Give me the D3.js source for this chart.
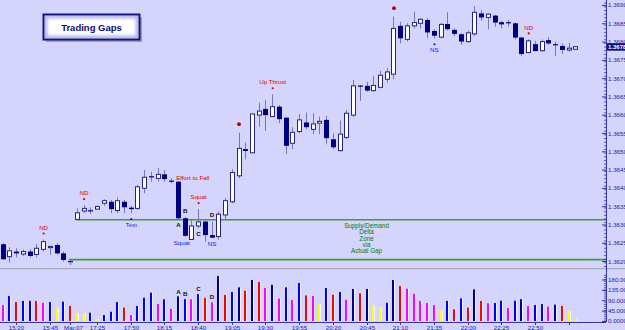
<!DOCTYPE html>
<html>
<head>
<meta charset="utf-8">
<script src="https://cdn.jsdelivr.net/npm/d3@7/dist/d3.min.js"></script>
<style>
  body { margin: 0; background: #d4d4fc; overflow: hidden; }
  svg { display: block; font-family: "Liberation Sans", Arial, sans-serif; }
</style>
</head>
<body>
<div id="wrapper"></div>
<script>
// 5 minute bars, index 0..85
const opens = [1.36246,1.36212,1.36226,1.36219,1.36226,1.36218,1.36232,1.36238,1.36244,1.36221,
  1.36200,1.36314,1.36337,1.36339,1.36342,1.36358,1.36362,1.36338,1.36362,1.36346,
  1.36344,1.36399,1.36432,1.36426,1.36437,1.36420,1.36417,1.36317,1.36259,1.36296,
  1.36308,1.36271,1.36267,1.36326,1.36362,1.36433,1.36506,1.36496,1.36599,1.36616,
  1.36595,1.36622,1.36592,1.36522,1.36554,1.36579,1.36560,1.36577,1.36586,1.36533,
  1.36502,1.36538,1.36599,1.36680,1.36679,1.36666,1.36675,1.36697,1.36711,1.36843,
  1.36806,1.36843,1.36850,1.36859,1.36829,1.36812,1.36848,1.36832,1.36820,1.36800,
  1.36821,1.36877,1.36866,1.36871,1.36853,1.36853,1.36850,1.36811,1.36770,1.36793,
  1.36775,1.36804,1.36793,1.36788,1.36777,1.36779]
const highs = [1.36249,1.36238,1.36235,1.36232,1.36232,1.36247,1.36259,1.36241,1.36249,1.36226,
  1.36204,1.36344,1.36353,1.36347,1.36352,1.36369,1.36367,1.36374,1.36367,1.36351,
  1.36408,1.36449,1.36444,1.36454,1.36449,1.36426,1.36419,1.36320,1.36312,1.36342,
  1.36310,1.36308,1.36335,1.36372,1.36451,1.36551,1.36524,1.36604,1.36633,1.36640,
  1.36656,1.36627,1.36594,1.36566,1.36602,1.36606,1.36604,1.36595,1.36597,1.36549,
  1.36584,1.36613,1.36695,1.36681,1.36690,1.36706,1.36720,1.36727,1.36868,1.36854,
  1.36850,1.36882,1.36864,1.36864,1.36834,1.36851,1.36880,1.36836,1.36823,1.36830,
  1.36897,1.36886,1.36877,1.36873,1.36857,1.36859,1.36852,1.36813,1.36806,1.36802,
  1.36806,1.36812,1.36800,1.36795,1.36797,1.36787]
const lows = [1.36203,1.36196,1.36210,1.36214,1.36210,1.36210,1.36226,1.36217,1.36217,1.36198,
  1.36189,1.36313,1.36331,1.36329,1.36340,1.36351,1.36331,1.36331,1.36331,1.36331,
  1.36340,1.36385,1.36417,1.36417,1.36417,1.36413,1.36315,1.36266,1.36258,1.36290,
  1.36253,1.36262,1.36258,1.36312,1.36358,1.36426,1.36478,1.36495,1.36567,1.36556,
  1.36594,1.36577,1.36493,1.36506,1.36549,1.36560,1.36547,1.36547,1.36519,1.36506,
  1.36499,1.36533,1.36594,1.36638,1.36663,1.36663,1.36672,1.36688,1.36697,1.36795,
  1.36800,1.36836,1.36836,1.36809,1.36809,1.36809,1.36830,1.36815,1.36791,1.36797,
  1.36815,1.36857,1.36834,1.36841,1.36836,1.36841,1.36806,1.36761,1.36768,1.36773,
  1.36772,1.36791,1.36761,1.36766,1.36772,1.36778]
const closes = [1.36205,1.36228,1.36221,1.36226,1.36214,1.36235,1.36253,1.36240,1.36221,1.36203,
  1.36197,1.36332,1.36344,1.36336,1.36349,1.36365,1.36342,1.36365,1.36347,1.36342,
  1.36403,1.36429,1.36429,1.36437,1.36424,1.36418,1.36317,1.36269,1.36296,1.36307,
  1.36271,1.36264,1.36328,1.36365,1.36442,1.36508,1.36501,1.36602,1.36610,1.36599,
  1.36622,1.36588,1.36515,1.36552,1.36586,1.36566,1.36575,1.36582,1.36536,1.36511,
  1.36547,1.36604,1.36679,1.36677,1.36666,1.36680,1.36708,1.36717,1.36836,1.36809,
  1.36843,1.36852,1.36861,1.36825,1.36816,1.36847,1.36834,1.36821,1.36800,1.36824,
  1.36880,1.36866,1.36875,1.36852,1.36847,1.36850,1.36811,1.36766,1.36802,1.36774,
  1.36800,1.36795,1.36790,1.36777,1.36782,1.36786]

// volume (thousands) and its colour class per bar
const volumes = [69,108,82,87,87,87,79,82,58,84, 65,35,35,36,9,26,40,82,58,26,
  65,101,123,74,94,53,107,95,94,117, 100,81,195,113,126,146,131,178,169,143,
  157,97,146,91,165,111,108,72,143,114, 126,92,139,120,139,68,61,79,178,152,
  140,118,87,78,69,48,87,51,98,58, 137,87,77,78,88,56,88,95,65,69, 74,62,71,65,43,10]
const volumeClass = "MBRBBRMBYBRYYBYBBBRMBBBMBMNBMBRMNRBNRNRMNMBMBRMYBRBMNRNYYBNRMMMMMYBRBRNRMBBMBNMBBMNRYY".split("")

const timeTickBars = [2,7,10,14,19,24,29,34,39,44,49,54,59,64,69,74,79,84]
const timeTickLabels = ["15:20","15:45","Mar.07","17:25","17:50","18:15","18:40","19:05","19:30",
  "19:55","20:20","20:45","21:10","21:35","22:00","22:25","22:50",""]

const priceTicks = d3.range(14, -1, -1).map(k => +(1.3620 + k * 0.0005).toFixed(4))
const volumeTicks = [0, 45, 90, 135, 180]
const volumeTickLabels = ["0.00000","45.0000","90.0000","135.0000","180.0000"]

const gapLevels = [1.36204, 1.36313]
const gapStartBars = [10, 11]
const gapText = ["Supply/Demand","Delta","Zone","via","Actual Gap"]

// chart notes: bar, text, side of the bar, kind
const notes = [
  {bar: 6, text: "ND", side: "above", kind: "sign", dot: true},
  {bar: 12, text: "ND", side: "above", kind: "sign", dot: true},
  {bar: 19, text: "Test", side: "below", kind: "test", dot: true},
  {bar: 29, text: "Squat", side: "above", kind: "sign", dot: true},
  {bar: 26.5, text: "Squat", side: "below", kind: "test", dot: false, ref: 27},
  {bar: 31, text: "NS", side: "below", kind: "test", dot: false},
  {bar: 35, text: "", side: "above", kind: "sign", dot: true, big: true},
  {bar: 40, text: "Up Thrust", side: "above", kind: "sign", dot: true},
  {bar: 58, text: "", side: "above", kind: "sign", dot: true, big: true},
  {bar: 64, text: "NS", side: "below", kind: "test", dot: true},
  {bar: 78, text: "ND", side: "above", kind: "sign", dot: true},
]
const letters = [
  {bar: 26, text: "A", side: "below"},
  {bar: 27, text: "B", side: "above"},
  {bar: 29, text: "C", side: "below"},
  {bar: 31, text: "D", side: "above"},
]

// dimensions
const width = 625, height = 330
const axisX = 606, dividerY = 268.7, bottomY = 322

const bars = d3.range(opens.length).map(i => ({
  i, o: opens[i], h: highs[i], l: lows[i], c: closes[i], v: volumes[i], k: volumeClass[i]
}))

const x = d3.scaleLinear().domain([0, 85]).range([2.7, 575.4])
const y = d3.scaleLinear().domain([1.3620, 1.3690]).range([261.06, 5])
const yVol = d3.scaleLinear().domain([0, 180]).range([321, 279.5])
const volColor = d3.scaleOrdinal().domain(["B","N","R","M","Y"])
  .range(["#0000ff","#000090","#ff0000","#ff00ff","#ffff00"])
const noteColor = {sign: "#dd0000", test: "#1a1ae6"}

const svg = d3.select("#wrapper").append("svg").attr("width", width).attr("height", height)
svg.append("rect").attr("width", width).attr("height", height).attr("fill", "#d4d4fc")

// title box
const defs = svg.append("defs")
defs.append("filter").attr("id", "soft").append("feGaussianBlur").attr("stdDeviation", 1.8)
defs.append("clipPath").attr("id", "titleClip")
  .append("rect").attr("x", 44.5).attr("y", 15.5).attr("width", 94).attr("height", 23)
const title = svg.append("g")
title.append("rect").attr("x", 46).attr("y", 17).attr("width", 96).attr("height", 25).attr("fill", "#9a9ac8")
title.append("rect").attr("x", 43.5).attr("y", 14.5).attr("width", 96).attr("height", 25)
  .attr("fill", "#ffffff")
title.append("rect").attr("x", 44.5).attr("y", 15.5).attr("width", 94).attr("height", 23)
  .attr("fill", "none").attr("stroke", "#b8b8ec").attr("stroke-width", 6)
  .attr("filter", "url(#soft)").attr("clip-path", "url(#titleClip)")
title.append("rect").attr("x", 43.5).attr("y", 14.5).attr("width", 96).attr("height", 25)
  .attr("fill", "none").attr("stroke", "#14147e").attr("stroke-width", 2)
title.append("text").attr("x", 91.5).attr("y", 30.5).attr("text-anchor", "middle")
  .attr("font-size", 9.5).attr("font-weight", "bold").attr("fill", "#0c0c6a").text("Trading Gaps")

// gap lines
svg.selectAll(".gap").data(gapLevels).join("line").attr("class", "gap")
  .attr("x1", (d, i) => x(gapStartBars[i]) - 1).attr("x2", axisX)
  .attr("y1", d => y(d)).attr("y2", d => y(d))
  .attr("stroke", "#3f9c3f").attr("stroke-width", 1.6)

const gapMid = (y(gapLevels[0]) + y(gapLevels[1])) / 2
svg.append("g").selectAll("text").data(gapText).join("text")
  .attr("x", x(54)).attr("y", (d, i) => gapMid - 14 + i * 6.4).attr("dy", "0.35em")
  .attr("text-anchor", "middle").attr("font-size", 6.3).attr("fill", "#0b7a0b").text(d => d)

// divider between price and volume
svg.append("line").attr("x1", 0).attr("x2", width).attr("y1", dividerY).attr("y2", dividerY)
  .attr("stroke", "#a8a8bc").attr("stroke-width", 1.3)

// candles
const cx = d => Math.round(x(d.i))
const candles = svg.append("g")
candles.selectAll(".wick").data(bars).join("line").attr("class", "wick")
  .attr("x1", d => cx(d) + 0.5).attr("x2", d => cx(d) + 0.5)
  .attr("y1", d => y(d.h)).attr("y2", d => y(d.l))
  .attr("stroke", "#7676b6").attr("stroke-width", 1)
candles.selectAll(".body").data(bars).join("rect").attr("class", "body")
  .attr("x", d => d.c >= d.o ? cx(d) - 1.5 : cx(d) - 2)
  .attr("width", d => d.c >= d.o ? 4 : 5)
  .attr("y", d => y(Math.max(d.o, d.c)))
  .attr("height", d => Math.max(1.2, y(Math.min(d.o, d.c)) - y(Math.max(d.o, d.c))))
  .attr("fill", d => d.c >= d.o ? "#ffffff" : "#000080")
  .attr("stroke", d => d.c >= d.o ? "#24247e" : "none")
  .attr("stroke-width", 1)

// notes
const noteG = svg.append("g")
notes.forEach(n => {
  const b = bars[n.ref ?? Math.round(n.bar)]
  const sgn = n.side === "above" ? -1 : 1
  const edge = n.side === "above" ? y(b.h) : y(b.l)
  if (n.dot) {
    noteG.append("circle").attr("cx", x(n.bar) + 0.5).attr("cy", edge + sgn * (n.big ? 8.5 : 6))
      .attr("r", n.big ? 1.9 : 1.1).attr("fill", n.big ? "#b00000" : noteColor[n.kind])
  }
  if (n.text) {
    noteG.append("text").attr("x", x(n.bar) + 0.5).attr("y", edge + sgn * (n.dot ? 12 : 5.5))
      .attr("dy", "0.35em").attr("text-anchor", "middle").attr("font-size", 6.2)
      .attr("fill", noteColor[n.kind]).text(n.text)
  }
})
noteG.append("text").attr("x", x(25) + 5).attr("y", y(bars[25].h) - 1).attr("dy", "0.35em")
  .attr("font-size", 6.2).attr("fill", noteColor.sign).text("Effort to Fall")
noteG.selectAll(".letter").data(letters).join("text").attr("class", "letter")
  .attr("x", d => x(d.bar) + 0.5)
  .attr("y", d => d.side === "above" ? y(bars[d.bar].h) - 6.5 : y(bars[d.bar].l) + 5.5)
  .attr("dy", "0.35em").attr("text-anchor", "middle").attr("font-size", 6.2)
  .attr("font-weight", "bold").attr("fill", "#111").text(d => d.text)

// volume
const vol = svg.append("g")
vol.selectAll(".vbar").data(bars).join("rect").attr("class", "vbar")
  .attr("x", d => cx(d) - 1).attr("width", 2)
  .attr("y", d => yVol(d.v)).attr("height", d => yVol(0) - yVol(d.v))
  .attr("fill", d => volColor(d.k))
vol.selectAll(".vedge").data(bars).join("rect").attr("class", "vedge")
  .attr("x", d => cx(d) + 1).attr("width", 1)
  .attr("y", d => yVol(d.v)).attr("height", d => yVol(0) - yVol(d.v))
  .attr("fill", "#ffffff").attr("opacity", 0.75)
vol.selectAll(".vletter").data(letters).join("text").attr("class", "vletter")
  .attr("x", d => x(d.bar) + 0.5).attr("y", d => yVol(bars[d.bar].v) - 5).attr("dy", "0.35em")
  .attr("text-anchor", "middle").attr("font-size", 6.2).attr("font-weight", "bold")
  .attr("fill", "#111").text(d => d.text)

// axes
const axisColor = "#3434a4"
const minorPrice = d3.range(1.36185, 1.36925, 0.0001).filter(p => y(p) > 0 && y(p) < dividerY)
svg.append("g").selectAll("line").data(minorPrice).join("line")
  .attr("x1", axisX - 2).attr("x2", axisX + 1).attr("y1", d => y(d)).attr("y2", d => y(d))
  .attr("stroke", axisColor).attr("stroke-width", 0.8)
const minorVol = d3.range(0, 199, 9)
svg.append("g").selectAll("line").data(minorVol).join("line")
  .attr("x1", axisX - 2).attr("x2", axisX + 1).attr("y1", d => yVol(d)).attr("y2", d => yVol(d))
  .attr("stroke", axisColor).attr("stroke-width", 0.8)

const priceAxis = svg.append("g").attr("transform", `translate(${axisX},0)`)
  .call(d3.axisRight(y).tickValues(priceTicks).tickFormat(d3.format(".5f")).tickSize(-4).tickPadding(2))
const volAxis = svg.append("g").attr("transform", `translate(${axisX},0)`)
  .call(d3.axisRight(yVol).tickValues(volumeTicks).tickFormat((d, i) => volumeTickLabels[i])
    .tickSize(-4).tickPadding(2))
const timeAxis = svg.append("g").attr("transform", `translate(0,${bottomY})`)
  .call(d3.axisBottom(x).tickValues(timeTickBars).tickFormat((d, i) => timeTickLabels[i])
    .tickSize(3).tickPadding(0.5))
;[priceAxis, volAxis, timeAxis].forEach(a => {
  a.select(".domain").remove()
  a.selectAll(".tick line").attr("stroke", axisColor)
  a.selectAll(".tick text").attr("fill", "#1e1e96").attr("font-size", 6.2)
    .attr("font-family", "Liberation Sans, Arial, sans-serif")
})
timeAxis.selectAll(".tick").attr("transform", d => `translate(${Math.round(x(d)) + 0.5},0)`)
// the date label sits a little right of its tick
timeAxis.selectAll(".tick text").filter((d, i) => timeTickLabels[i].startsWith("Mar")).attr("dx", 3)

svg.append("line").attr("x1", axisX + 0.5).attr("x2", axisX + 0.5).attr("y1", 0).attr("y2", bottomY)
  .attr("stroke", axisColor).attr("stroke-width", 1)
svg.append("line").attr("x1", 0).attr("x2", axisX).attr("y1", bottomY + 0.5).attr("y2", bottomY + 0.5)
  .attr("stroke", axisColor).attr("stroke-width", 1)

// last price tag
const last = bars[bars.length - 1].c
svg.append("rect").attr("x", axisX + 1).attr("y", y(last) - 3.5).attr("width", width - axisX).attr("height", 7.5)
  .attr("fill", "#10107a")
svg.append("text").attr("x", axisX + 2).attr("y", y(last) + 0.3).attr("dy", "0.35em")
  .attr("font-size", 6).attr("font-weight", "bold").attr("fill", "#ffffff").text(d3.format(".5f")(last))
</script>
</body>
</html>
